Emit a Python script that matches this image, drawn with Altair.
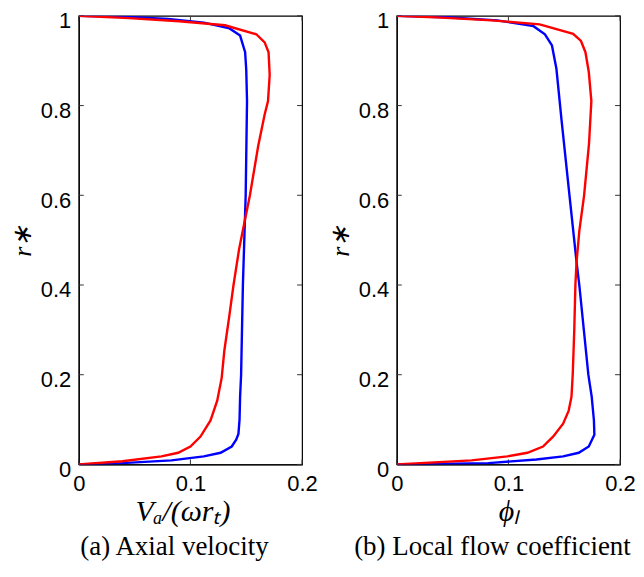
import altair as alt
import pandas as pd

# ---- data ----
a_blue_x = [0, 0.039, 0.083, 0.112, 0.127, 0.137, 0.141, 0.143, 0.144, 0.1445, 0.1454, 0.147, 0.1495, 0.1507, 0.150, 0.149, 0.1445, 0.135, 0.112, 0.08, 0.04, 0]
a_blue_r = [0, 0.003, 0.009, 0.018, 0.026, 0.040, 0.055, 0.068, 0.10, 0.151, 0.2, 0.4, 0.6, 0.81, 0.88, 0.919, 0.956, 0.972, 0.985, 0.993, 0.998, 1]

a_red_x = [0, 0.039, 0.074, 0.089, 0.100, 0.109, 0.118, 0.124, 0.128, 0.1304, 0.135, 0.1386, 0.1436, 0.149, 0.1533, 0.1607, 0.1665, 0.1695, 0.171, 0.170, 0.1665, 0.159, 0.131, 0.09, 0.045, 0]
a_red_r = [0, 0.007, 0.018, 0.026, 0.040, 0.062, 0.098, 0.142, 0.193, 0.254, 0.334, 0.4, 0.48, 0.547, 0.6, 0.71, 0.78, 0.81, 0.868, 0.919, 0.941, 0.959, 0.979, 0.988, 0.995, 1]

b_blue_x = [0, 0.082, 0.125, 0.149, 0.163, 0.172, 0.177, 0.1766, 0.1746, 0.1716, 0.1635, 0.1611, 0.1547, 0.1475, 0.1459, 0.143, 0.139, 0.1327, 0.1225, 0.09, 0.045, 0]
b_blue_r = [0, 0.003, 0.011, 0.018, 0.026, 0.040, 0.066, 0.098, 0.151, 0.2, 0.4, 0.45, 0.6, 0.77, 0.81, 0.882, 0.934, 0.959, 0.977, 0.99, 0.997, 1]

b_red_x = [0, 0.067, 0.099, 0.117, 0.131, 0.140, 0.149, 0.154, 0.1565, 0.1576, 0.159, 0.160, 0.161, 0.1635, 0.1678, 0.1722, 0.1743, 0.172, 0.169, 0.165, 0.158, 0.128, 0.085, 0.04, 0]
b_red_r = [0, 0.009, 0.018, 0.026, 0.040, 0.062, 0.091, 0.12, 0.151, 0.2, 0.3, 0.4, 0.45, 0.52, 0.6, 0.715, 0.81, 0.875, 0.919, 0.944, 0.960, 0.981, 0.99, 0.996, 1]

x_ticks = [0, 0.1, 0.2]
y_ticks = [0, 0.2, 0.4, 0.6, 0.8, 1.0]

W, H = 224, 450
TICK = 5


def series(xs, rs, name):
    return pd.DataFrame({"x": xs, "r": rs, "s": name, "i": range(len(xs))})


def panel(blue, red, xtitle, caption, cap_dx, title_dx):
    df = pd.concat([blue, red], ignore_index=True)
    xs = alt.Scale(domain=[0, 0.2], nice=False, zero=False)
    ys = alt.Scale(domain=[0, 1], nice=False, zero=False)

    lines = alt.Chart(df).mark_line(strokeWidth=2.4, clip=True).encode(
        x=alt.X("x:Q", scale=xs, title=xtitle,
                axis=alt.Axis(values=x_ticks, format="~g", ticks=False, grid=False,
                              labelPadding=9, titlePadding=2,
                              titleX=W / 2 + title_dx)),
        y=alt.Y("r:Q", scale=ys, title="r∗",
                axis=alt.Axis(values=y_ticks, format="~g", ticks=False, grid=False,
                              labelPadding=8, titlePadding=5, labelOffset=5)),
        color=alt.Color("s:N", scale=alt.Scale(domain=["blue", "red"], range=["#0000ff", "#ff0000"]), legend=None),
        detail="s:N",
        order="i:Q",
    )

    xt = pd.DataFrame({"v": x_ticks})
    yt = pd.DataFrame({"v": y_ticks})
    tick_color = "#333333"
    bot = alt.Chart(xt).mark_rule(color=tick_color, strokeWidth=1).encode(
        x=alt.X("v:Q", scale=xs), y=alt.value(H), y2=alt.value(H - TICK))
    top = alt.Chart(xt).mark_rule(color=tick_color, strokeWidth=1).encode(
        x=alt.X("v:Q", scale=xs), y=alt.value(0), y2=alt.value(TICK))
    left = alt.Chart(yt).mark_rule(color=tick_color, strokeWidth=1).encode(
        y=alt.Y("v:Q", scale=ys), x=alt.value(0), x2=alt.value(TICK))
    right = alt.Chart(yt).mark_rule(color=tick_color, strokeWidth=1).encode(
        y=alt.Y("v:Q", scale=ys), x=alt.value(W), x2=alt.value(W - TICK))

    return alt.layer(bot, top, left, right, lines).properties(
        width=W, height=H,
        title=alt.TitleParams(caption, orient="bottom", font="Liberation Serif",
                              fontSize=27, fontWeight="normal", color="black",
                              offset=8, dx=cap_dx),
    )


pa = panel(series(a_blue_x, a_blue_r, "blue"), series(a_red_x, a_red_r, "red"),
           "Vₐ/(ωrₜ)", "(a) Axial velocity", -16, -8)
pb = panel(series(b_blue_x, b_blue_r, "blue"), series(b_red_x, b_red_r, "red"),
           "ϕₗ", "(b) Local flow coefficient", -16, 0)

chart = alt.hconcat(
    pa, pb, spacing=8,
    padding={"left": 0, "top": 0, "right": 0, "bottom": 0},
).configure_view(
    stroke="black", strokeWidth=1.2
).configure_axis(
    labelFont="Liberation Sans", labelFontSize=22, labelColor="black",
    titleFont="Liberation Serif", titleFontStyle="italic", titleFontWeight="normal",
    titleFontSize=30, titleColor="black", domainColor="black", domainWidth=1.2,
).configure_axisX(labelFlush=False).configure_axisY(labelFlush=False, titleFontSize=26)

chart.save("out.html", embed_options={"renderer": "svg", "actions": False})
